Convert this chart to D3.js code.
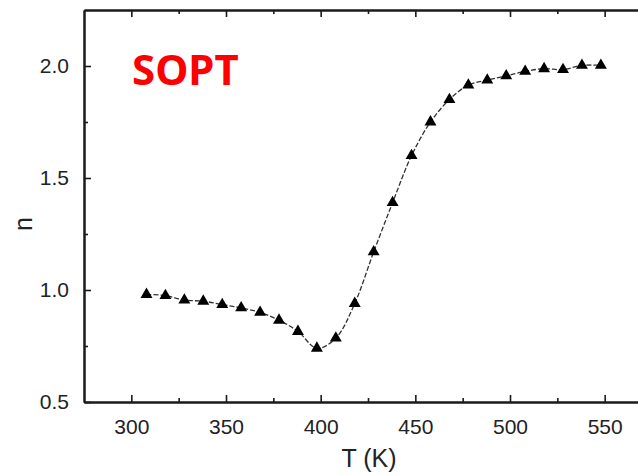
<!DOCTYPE html>
<html>
<head>
<meta charset="utf-8">
<script src="https://cdn.jsdelivr.net/npm/d3@7"></script>
<style>
  body { margin: 0; background: #fff; }
  svg { display: block; font-family: "Liberation Sans", Arial, sans-serif; }
  .tick text { font-size: 21px; fill: #222; }
</style>
</head>
<body>
<div id="viz"></div>
<script>
// temperature (K) and n values
var temps = [308, 318, 328, 338, 348, 358, 368, 378, 388, 398,
             408, 418, 428, 438, 448, 458, 468, 478, 488, 498,
             508, 518, 528, 538, 548];
var nValues = [0.98, 0.975, 0.955, 0.95, 0.935, 0.92, 0.90, 0.865, 0.815, 0.74,
               0.785, 0.94, 1.17, 1.39, 1.60, 1.75, 1.85, 1.915, 1.937, 1.956,
               1.976, 1.988, 1.984, 2.003, 2.003];
var xTicks = [300, 350, 400, 450, 500, 550];
var xMinor = [325, 375, 425, 475, 525, 575];
var yTicks = [0.5, 1.0, 1.5, 2.0];
var yMinor = [0.75, 1.25, 1.75];

function nChart() {
  var data = temps.map((t, i) => ({ t: t, n: nValues[i] }));

  var W = 638, H = 475;
  var mLeft = 84, mTop = 10, mRight = 652, mBottom = 402;

  var svg = d3.select('#viz').append('svg')
    .attr('width', W)
    .attr('height', H);

  var x = d3.scaleLinear().domain([275, 575]).range([mLeft, mRight]);
  var y = d3.scaleLinear().domain([0.5, 2.25]).range([mBottom, mTop]);

  // axes, ticks pointing inward
  svg.append('g')
    .attr('transform', `translate(0, ${mBottom})`)
    .call(d3.axisBottom(x).tickValues(xTicks).tickSizeInner(-7).tickSizeOuter(0).tickPadding(17).tickFormat(d3.format('d')));

  svg.append('g')
    .attr('transform', `translate(0, ${mBottom})`)
    .call(d3.axisBottom(x).tickValues(xMinor).tickSizeInner(-4).tickSizeOuter(0).tickFormat(''));

  svg.append('g')
    .attr('transform', `translate(0, ${mTop})`)
    .call(d3.axisTop(x).tickValues(xTicks).tickSizeInner(-7).tickSizeOuter(0).tickFormat(''));

  svg.append('g')
    .attr('transform', `translate(0, ${mTop})`)
    .call(d3.axisTop(x).tickValues(xMinor).tickSizeInner(-4).tickSizeOuter(0).tickFormat(''));

  svg.append('g')
    .attr('transform', `translate(${mLeft}, 0)`)
    .call(d3.axisLeft(y).tickValues(yTicks).tickSizeInner(-7).tickSizeOuter(0).tickPadding(15).tickFormat(d3.format('.1f')));

  svg.append('g')
    .attr('transform', `translate(${mLeft}, 0)`)
    .call(d3.axisLeft(y).tickValues(yMinor).tickSizeInner(-4).tickSizeOuter(0).tickFormat(''));

  svg.selectAll('.domain').attr('stroke', '#1a1a1a').attr('stroke-width', 2);
  svg.selectAll('.tick line').attr('stroke', '#1a1a1a').attr('stroke-width', 1.6);

  // curve
  var line = d3.line()
    .x(d => x(d.t))
    .y(d => y(d.n))
    .curve(d3.curveCatmullRom);

  svg.append('path')
    .datum(data)
    .attr('fill', 'none')
    .attr('stroke', '#333')
    .attr('stroke-width', 1.3)
    .attr('stroke-dasharray', '5,2')
    .attr('d', line);

  // triangle markers
  svg.selectAll('.pt')
    .data(data)
    .enter()
    .append('path')
    .attr('class', 'pt')
    .attr('transform', d => `translate(${x(d.t)}, ${y(d.n)})`)
    .attr('d', d3.symbol().type(d3.symbolTriangle).size(62))
    .attr('fill', '#000');

  // labels
  svg.append('text')
    .attr('x', 369)
    .attr('y', 467)
    .attr('text-anchor', 'middle')
    .style('font-size', '25px')
    .attr('fill', '#222')
    .text('T (K)');

  svg.append('text')
    .attr('transform', 'translate(32, 224) rotate(-90)')
    .attr('text-anchor', 'middle')
    .style('font-size', '25px')
    .attr('fill', '#222')
    .text('n');

  svg.append('text')
    .attr('x', 132)
    .attr('y', 85)
    .style('font-family', '"Noto Sans", "Open Sans", sans-serif')
    .style('font-weight', 'bold')
    .style('font-size', '42px')
    .attr('fill', '#ff0000')
    .text('SOPT');
}

nChart();
</script>
</body>
</html>
